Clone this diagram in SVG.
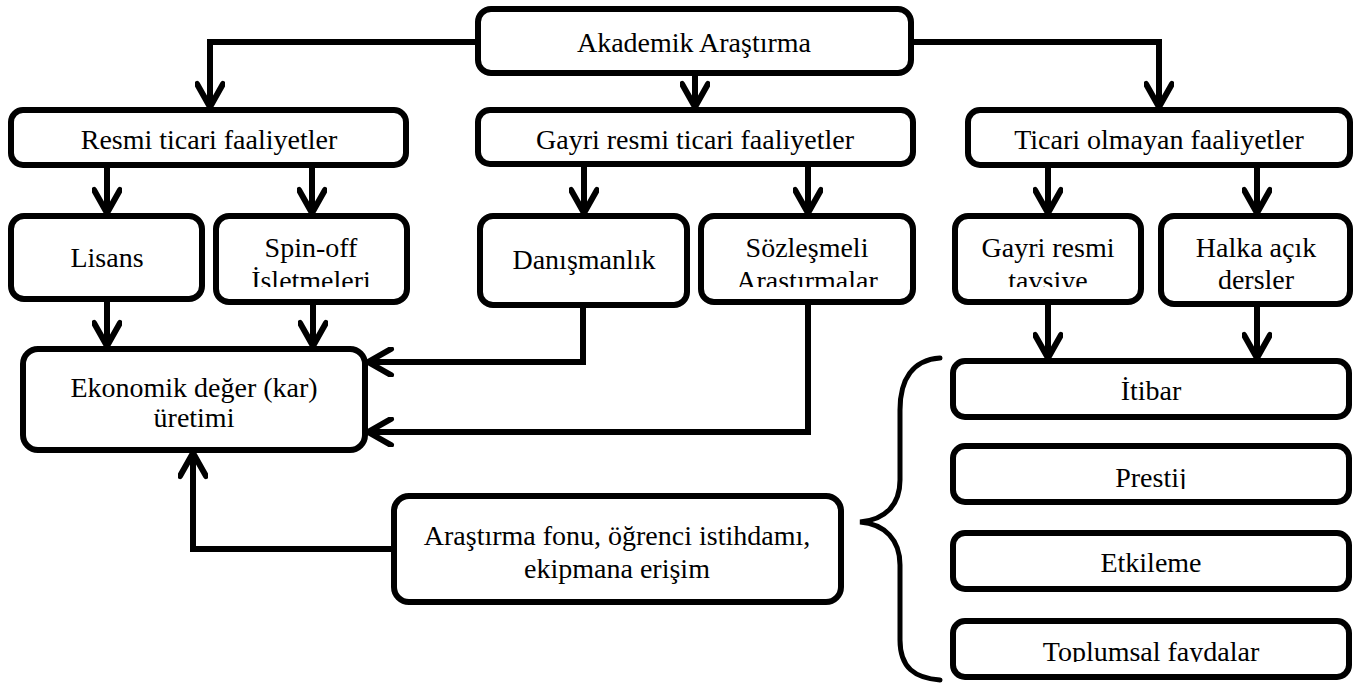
<svg xmlns="http://www.w3.org/2000/svg" width="1360" height="683" viewBox="0 0 1360 683">
<style>
.box{fill:#fff;stroke:#000;stroke-width:6}
.t{font-family:"Liberation Serif","Times New Roman",serif;font-size:28px;fill:#000;text-anchor:middle}
.c{fill:none;stroke:#000;stroke-width:6;stroke-linejoin:miter}
.br{fill:none;stroke:#000;stroke-width:5;stroke-linecap:round}
</style>
<defs>
<marker id="ah" viewBox="0 0 32 30" refX="27" refY="15" markerWidth="32" markerHeight="30" orient="auto" markerUnits="userSpaceOnUse">
<path d="M4,2 L27,15 L4,28" fill="none" stroke="#000" stroke-width="6" stroke-linecap="round" stroke-linejoin="round"/>
</marker>
<clipPath id="cSpin"><rect x="219" y="219" width="185" height="68"/></clipPath>
<clipPath id="cSoz"><rect x="704" y="219" width="206" height="68"/></clipPath>
<clipPath id="cTav"><rect x="958" y="219" width="180" height="68"/></clipPath>
<clipPath id="cPre"><rect x="956" y="449" width="390" height="40"/></clipPath>
<clipPath id="cTop"><rect x="956" y="624" width="390" height="38"/></clipPath>
</defs>

<g id="connectors">
<path class="c" d="M475,42 H210 V107" marker-end="url(#ah)"/>
<path class="c" d="M695,76 V107" marker-end="url(#ah)"/>
<path class="c" d="M914,42 H1159 V107" marker-end="url(#ah)"/>
<path class="c" d="M107,168 V213" marker-end="url(#ah)"/>
<path class="c" d="M312,168 V213" marker-end="url(#ah)"/>
<path class="c" d="M584,167 V213" marker-end="url(#ah)"/>
<path class="c" d="M808,167 V213" marker-end="url(#ah)"/>
<path class="c" d="M1048,168 V213" marker-end="url(#ah)"/>
<path class="c" d="M1257,168 V213" marker-end="url(#ah)"/>
<path class="c" d="M107,302 V346" marker-end="url(#ah)"/>
<path class="c" d="M313,305 V346" marker-end="url(#ah)"/>
<path class="c" d="M583,308 V362 H368" marker-end="url(#ah)"/>
<path class="c" d="M808,305 V432 H368" marker-end="url(#ah)"/>
<path class="c" d="M391,549 H193 V453" marker-end="url(#ah)"/>
<path class="c" d="M1048,305 V358" marker-end="url(#ah)"/>
<path class="c" d="M1257,307 V358" marker-end="url(#ah)"/>
<path class="br" d="M940,358 C912,360 900,380 900,410 L900,480 C900,505 885,520 860,522 C885,524 900,540 900,565 L900,640 C900,668 915,678 940,680"/>
</g>

<g id="akademik"><rect class="box" x="478" y="9" width="433" height="64" rx="13"/><text class="t" x="694" y="52">Akademik Araştırma</text></g>
<g id="resmi"><rect class="box" x="11" y="110" width="395" height="55" rx="12"/><text class="t" x="209" y="149">Resmi ticari faaliyetler</text></g>
<g id="gayri"><rect class="box" x="478" y="110" width="435" height="54" rx="12"/><text class="t" x="695" y="149">Gayri resmi ticari faaliyetler</text></g>
<g id="ticari"><rect class="box" x="968" y="110" width="382" height="55" rx="12"/><text class="t" x="1159" y="149">Ticari olmayan faaliyetler</text></g>

<g id="lisans"><rect class="box" x="11" y="216" width="191" height="83" rx="13"/><text class="t" x="107" y="267">Lisans</text></g>
<g id="spinoff"><rect class="box" x="216" y="216" width="191" height="86" rx="13"/><g clip-path="url(#cSpin)"><text class="t" x="311" y="257">Spin-off</text><text class="t" x="311" y="290">İşletmeleri</text></g></g>
<g id="danismanlik"><rect class="box" x="480" y="216" width="207" height="89" rx="13"/><text class="t" x="584" y="269">Danışmanlık</text></g>
<g id="sozlesmeli"><rect class="box" x="701" y="216" width="212" height="86" rx="13"/><g clip-path="url(#cSoz)"><text class="t" x="807" y="257">Sözleşmeli</text><text class="t" x="807" y="290">Araştırmalar</text></g></g>
<g id="tavsiye"><rect class="box" x="955" y="216" width="186" height="86" rx="13"/><g clip-path="url(#cTav)"><text class="t" x="1048" y="257">Gayri resmi</text><text class="t" x="1048" y="290">tavsiye</text></g></g>
<g id="halka"><rect class="box" x="1161" y="216" width="189" height="88" rx="13"/><text class="t" x="1256" y="257">Halka açık</text><text class="t" x="1256" y="289">dersler</text></g>

<g id="ekonomik"><rect class="box" x="23" y="349" width="342" height="101" rx="15"/><text class="t" x="194" y="397">Ekonomik değer (kar)</text><text class="t" x="194" y="427">üretimi</text></g>
<g id="fonu"><rect class="box" x="394" y="496" width="447" height="106" rx="15"/><text class="t" x="617" y="545">Araştırma fonu, öğrenci istihdamı,</text><text class="t" x="617" y="578">ekipmana erişim</text></g>

<g id="itibar"><rect class="box" x="953" y="361" width="396" height="56" rx="12"/><text class="t" x="1151" y="400">İtibar</text></g>
<g id="prestij"><rect class="box" x="953" y="446" width="396" height="56" rx="12"/><g clip-path="url(#cPre)"><text class="t" x="1151" y="487">Prestij</text></g></g>
<g id="etkileme"><rect class="box" x="953" y="533" width="396" height="56" rx="12"/><text class="t" x="1151" y="572">Etkileme</text></g>
<g id="toplumsal"><rect class="box" x="953" y="621" width="396" height="56" rx="12"/><g clip-path="url(#cTop)"><text class="t" x="1151" y="661">Toplumsal faydalar</text></g></g>
</svg>
